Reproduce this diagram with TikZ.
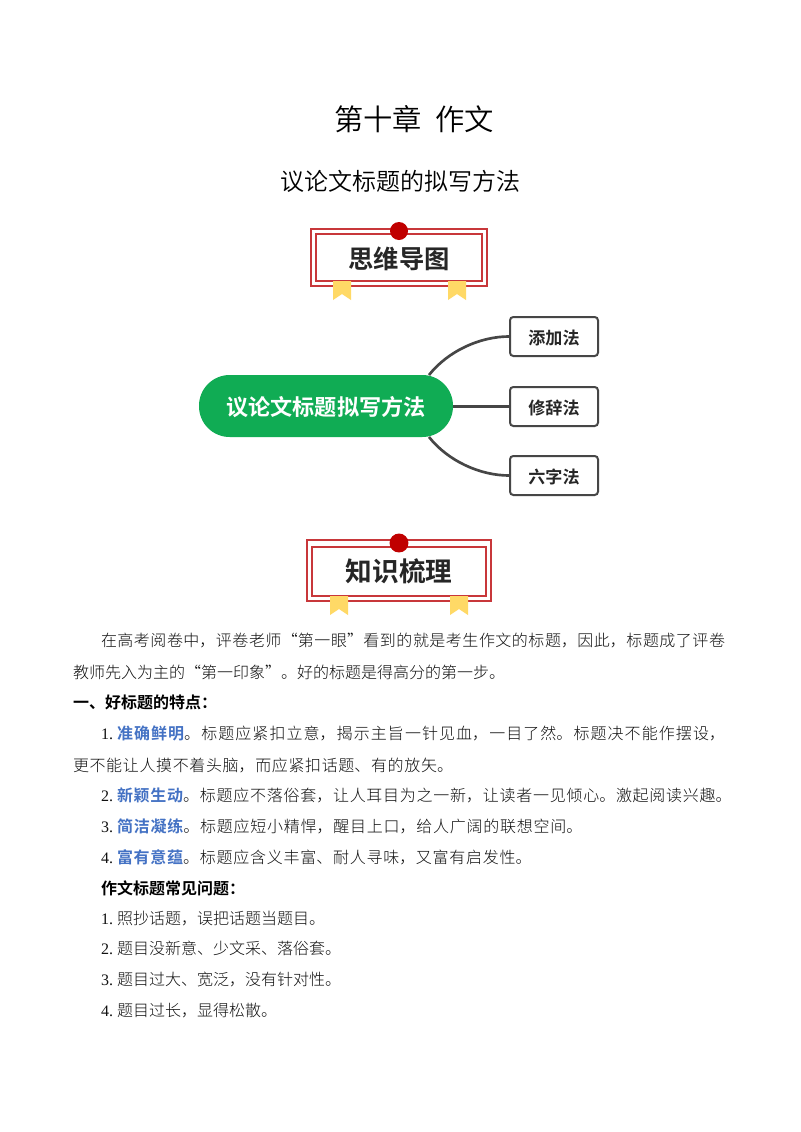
\documentclass[tikz,border=0pt]{standalone}
\usepackage{fontspec}
\setmainfont{Noto Sans CJK SC Light}[BoldFont={Noto Sans CJK SC Bold}]
\newfontfamily\latin{Liberation Serif}
\newfontfamily\titlefont{Noto Sans CJK SC DemiLight}
\XeTeXlinebreaklocale "zh"
\XeTeXlinebreakskip=0pt plus 3pt
\definecolor{badgered}{HTML}{C8373A}
\definecolor{dotred}{HTML}{C00000}
\definecolor{ribbon}{HTML}{FFD966}
\definecolor{pill}{HTML}{10AC54}
\definecolor{linkgrey}{HTML}{464646}
\definecolor{keyblue}{HTML}{4472C4}
\definecolor{bodyink}{HTML}{111111}
\tikzset{
  cjkbox/.style={inner sep=0pt,outer sep=0pt,text height=.88em,text depth=.12em},
  titletext/.style={cjkbox,font=\titlefont\fontsize{22}{22}\selectfont,text=black},
  subtext/.style={cjkbox,font=\titlefont\fontsize{18}{18}\selectfont,text=black},
  bodytext/.style={cjkbox,anchor=west,font=\fontsize{12}{16}\selectfont,text=bodyink},
  boldtext/.style={bodytext,font=\fontsize{12}{16}\bfseries\selectfont,text=black},
  badgetext/.style={cjkbox,font=\fontsize{19}{19}\bfseries\selectfont,text=black!85},
  pilltext/.style={cjkbox,font=\fontsize{16.6}{17}\bfseries\selectfont,text=white},
  leafbox/.style={draw=linkgrey,line width=1.5pt,rounded corners=2.5pt,fill=white,minimum width=88*.75pt,minimum height=39*.75pt,inner sep=0pt,text height=12pt,text depth=0pt,font=\fontsize{12.8}{13}\bfseries\selectfont,text=black!85},
  pillbox/.style={fill=pill,rounded corners=23pt,minimum width=254*.75pt,minimum height=62*.75pt,inner sep=0pt},
  linkline/.style={draw=linkgrey,line width=2pt},
  outerframe/.style={draw=badgered,line width=1pt},
  innerframe/.style={draw=badgered,line width=1.2pt,fill=white},
  ribbonshape/.style={fill=ribbon,draw=none},
  dot/.style={circle,fill=dotred,inner sep=0pt},
}
\newcommand{\jl}[4]{\node[bodytext,text height=,text depth=] (#1) at (#2) {\parbox[c]{#3pt}{\parfillskip=0pt\parindent=0pt #4}};}
\newcommand{\num}[1]{\makebox[12pt][l]{\latin #1}}
\newcommand{\key}[1]{\textcolor{keyblue}{\bfseries #1}}
\begin{document}
\begin{tikzpicture}[x=.75pt,y=-.75pt]
\useasboundingbox (0,0) rectangle (800,1132);
\fill[white] (0,0) rectangle (800,1132);

\node[titletext] (title) at (414,125) {第十章\ \ 作文};
\node[subtext] (subtitle) at (400,185) {议论文标题的拟写方法};

% badge 1
\draw[outerframe] (311,229) rectangle (487,286);
\draw[innerframe] (316,234) rectangle (482,281);
\node[dot,minimum size=13.5pt] (dotA) at (399,231) {};
\fill[ribbonshape] (333,281) -- (351,281) -- (351,300) -- (342,294) -- (333,300) -- cycle;
\fill[ribbonshape] (448,281) -- (466,281) -- (466,300) -- (457,294) -- (448,300) -- cycle;
\node[badgetext] (badgeA) at (399,263) {思维导图};

% mind map
\node[pillbox] (root) at (326,406) {};
\node[pilltext] (rootlabel) at (326,410) {议论文标题拟写方法};
\node[leafbox] (leafA) at (554,336.5) {添加法};
\node[leafbox] (leafB) at (554,406.5) {修辞法};
\node[leafbox] (leafC) at (554,475.5) {六字法};
\coordinate (rootT) at (429,375);
\coordinate (rootB) at (429,437);
\draw[linkline] (rootT) .. controls (448,351) and (480,336.5) .. (leafA.west);
\draw[linkline] (root.east |- leafB.west) -- (leafB.west);
\draw[linkline] (rootB) .. controls (448,461) and (480,475.5) .. (leafC.west);

% badge 2
\draw[outerframe] (307,540) rectangle (491,601);
\draw[innerframe] (312,547) rectangle (486,596);
\node[dot,minimum size=14.2pt] (dotB) at (399,543) {};
\fill[ribbonshape] (330,596) -- (348,596) -- (348,615) -- (339,609) -- (330,615) -- cycle;
\fill[ribbonshape] (450,596) -- (468,596) -- (468,615) -- (459,609) -- (450,615) -- cycle;
\node[badgetext,font=\fontsize{20}{20}\bfseries\selectfont] (badgeB) at (399,576) {知识梳理};

% body
\jl{l1}{101,640.5}{468}{在高考阅卷中，评卷老师“第一眼”看到的就是考生作文的标题，因此，标题成了评卷}
\node[bodytext] (l2) at (73,673) {教师先入为主的“第一印象”。好的标题是得高分的第一步。};
\node[boldtext] (l3) at (73,703.5) {一、好标题的特点：};
\jl{l4}{101,733.5}{468}{\num{1.}\key{准确鲜明}。标题应紧扣立意，揭示主旨一针见血，一目了然。标题决不能作摆设，}
\jl{l5}{73,765.5}{285}{更不能让人摸不着头脑，而应紧扣话题、有的放矢。}
\jl{l6}{101,795.5}{473}{\num{2.}\key{新颖生动}。标题应不落俗套，让人耳目为之一新，让读者一见倾心。激起阅读兴趣。}
\jl{l7}{101,826.5}{361}{\num{3.}\key{简洁凝练}。标题应短小精悍，醒目上口，给人广阔的联想空间。}
\jl{l8}{101,857.5}{323}{\num{4.}\key{富有意蕴}。标题应含义丰富、耐人寻味，又富有启发性。}
\node[boldtext] (l9) at (101,889) {作文标题常见问题：};
\node[bodytext] (l10) at (101,919) {\num{1.}照抄话题，误把话题当题目。};
\node[bodytext] (l11) at (101,949) {\num{2.}题目没新意、少文采、落俗套。};
\node[bodytext] (l12) at (101,980) {\num{3.}题目过大、宽泛，没有针对性。};
\node[bodytext] (l13) at (101,1011) {\num{4.}题目过长，显得松散。};
\end{tikzpicture}
\end{document}
